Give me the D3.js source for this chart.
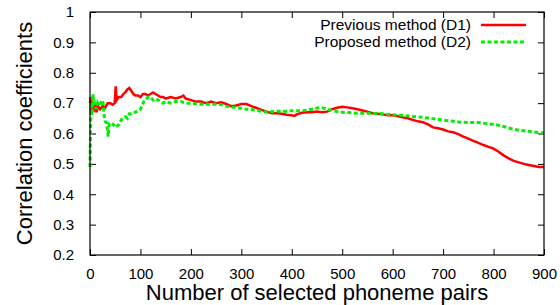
<!DOCTYPE html>
<html>
<head>
<meta charset="utf-8">
<script src="https://cdn.jsdelivr.net/npm/d3@7"></script>
<style>
  body { margin: 0; background: #fff; }
  text { font-family: "Liberation Sans", Arial, Helvetica, sans-serif; fill: #000; }
</style>
</head>
<body>
<div id="chart"></div>
<script>
// ---------------------------------------------------------
// DATA
// ---------------------------------------------------------
const seriesNames = ["Previous method (D1)", "Proposed method (D2)"];

const d1X = [0, 1, 2, 3, 5, 8, 10, 13, 16, 20, 25, 30, 35, 40, 45, 49, 51, 53, 57, 62, 66, 70, 74, 78, 82, 86, 90, 95,
  100, 105, 110, 115, 120, 125, 130, 135, 140, 145, 150, 160, 170, 180, 185, 190, 200, 210, 220, 230, 240, 250,
  260, 270, 280, 290, 300, 310, 320, 330, 340, 350, 360, 370, 380, 390, 400, 405, 410, 420, 430, 440, 450, 460,
  470, 480, 490, 500, 510, 520, 530, 540, 550, 560, 570, 580, 590, 600, 610, 620, 630, 640, 650, 660, 670, 680,
  690, 700, 710, 720, 730, 740, 750, 760, 770, 780, 790, 800, 810, 820, 830, 840, 850, 860, 870, 880, 890, 900];
const d1Y = [0.70, 0.72, 0.67, 0.71, 0.69, 0.68, 0.70, 0.67, 0.69, 0.68, 0.69, 0.685, 0.70, 0.70, 0.695, 0.70, 0.755,
  0.71, 0.72, 0.72, 0.73, 0.735, 0.745, 0.75, 0.74, 0.73, 0.725, 0.725,
  0.72, 0.73, 0.73, 0.725, 0.73, 0.735, 0.73, 0.725, 0.72, 0.72, 0.715, 0.72, 0.715, 0.72, 0.725, 0.715, 0.71,
  0.705, 0.705, 0.70, 0.705, 0.70,
  0.703, 0.697, 0.69, 0.692, 0.697, 0.697, 0.69, 0.684, 0.678, 0.672, 0.667, 0.667, 0.665, 0.662, 0.66, 0.658,
  0.663, 0.668, 0.67, 0.67, 0.672, 0.67,
  0.672, 0.68, 0.685, 0.688, 0.686, 0.683, 0.68, 0.676, 0.672, 0.667, 0.665, 0.663, 0.66, 0.66, 0.657, 0.653,
  0.65, 0.645, 0.64, 0.637, 0.63, 0.62,
  0.617, 0.613, 0.607, 0.604, 0.598, 0.59, 0.583, 0.576, 0.569, 0.562, 0.556, 0.55, 0.54, 0.528, 0.518, 0.51,
  0.505, 0.50, 0.496, 0.493, 0.49, 0.49];

const d2X = [0, 1, 2, 3, 4, 5, 6, 7, 9, 12, 15, 18, 21, 24, 26, 28, 30, 33, 36, 38, 42, 46, 50, 54, 58, 62, 66, 70,
  74, 78, 82, 86, 90, 95, 100, 104, 108, 112, 116, 120, 125, 130, 135, 140, 145, 150, 160, 170, 180, 190, 200,
  210, 220, 230, 240, 250, 260, 270, 280, 290, 300, 310, 320, 330, 340, 350, 360, 370, 380, 390, 400, 410, 420,
  430, 440, 450, 460, 470, 480, 490, 500, 510, 520, 530, 540, 550, 560, 570, 580, 590, 600, 610, 620, 630, 640,
  650, 660, 670, 680, 690, 700, 710, 720, 730, 740, 750, 760, 770, 780, 790, 800, 810, 820, 830, 840, 850, 860,
  870, 880, 890, 900];
const d2Y = [0.49, 0.60, 0.68, 0.70, 0.66, 0.71, 0.73, 0.69, 0.70, 0.68, 0.70, 0.69, 0.70, 0.71, 0.70, 0.66, 0.64,
  0.635, 0.59, 0.63, 0.625, 0.63, 0.62, 0.625, 0.63, 0.645, 0.65, 0.655,
  0.65, 0.665, 0.665, 0.67, 0.67, 0.675, 0.68, 0.695, 0.71, 0.715, 0.72, 0.72, 0.71, 0.715, 0.71, 0.705, 0.70,
  0.705, 0.70, 0.705, 0.705, 0.70, 0.70,
  0.698, 0.696, 0.697, 0.695, 0.697, 0.695, 0.69, 0.687, 0.685, 0.683, 0.68, 0.679, 0.676, 0.673, 0.67, 0.672,
  0.673, 0.673, 0.673, 0.675, 0.675, 0.675,
  0.677, 0.68, 0.684, 0.685, 0.68, 0.676, 0.672, 0.67, 0.669, 0.668, 0.667, 0.667, 0.667, 0.666, 0.666, 0.665,
  0.663, 0.662, 0.66, 0.66, 0.658, 0.656,
  0.655, 0.653, 0.651, 0.649, 0.647, 0.644, 0.642, 0.64, 0.638, 0.637, 0.636, 0.636, 0.636, 0.634, 0.632, 0.63,
  0.627, 0.623, 0.618, 0.614, 0.611, 0.609,
  0.607, 0.605, 0.603, 0.602];

const xTicks = [0, 100, 200, 300, 400, 500, 600, 700, 800, 900];
const yTicks = [0.2, 0.3, 0.4, 0.5, 0.6, 0.7, 0.8, 0.9, 1];

// ---------------------------------------------------------
// SETUP
// ---------------------------------------------------------
const width = 560;
const height = 305;
const margin = { top: 12, right: 16, bottom: 50, left: 90 };
const plotW = width - margin.left - margin.right;
const plotH = height - margin.top - margin.bottom;

const x = d3.scaleLinear().domain([0, 900]).range([0, plotW]);
const y = d3.scaleLinear().domain([0.2, 1]).range([plotH, 0]);

const svg = d3.select("#chart")
  .append("svg")
  .attr("width", width)
  .attr("height", height);

const g = svg.append("g")
  .attr("transform", `translate(${margin.left}, ${margin.top})`);

const tickLen = 6;

// bottom axis with labels, top mirror ticks
g.append("g")
  .attr("transform", `translate(0, ${plotH})`)
  .call(d3.axisBottom(x).tickValues(xTicks).tickSize(-tickLen).tickPadding(13).tickFormat(d3.format("d")))
  .call(a => a.select(".domain").remove())
  .call(a => a.selectAll("text").style("font-size", "15px"));

g.append("g")
  .call(d3.axisTop(x).tickValues(xTicks).tickSize(-tickLen).tickFormat(""))
  .call(a => a.select(".domain").remove());

// left axis with labels, right mirror ticks
g.append("g")
  .call(d3.axisLeft(y).tickValues(yTicks).tickSize(-tickLen).tickPadding(16).tickFormat(d3.format("")))
  .call(a => a.select(".domain").remove())
  .call(a => a.selectAll("text").style("font-size", "15px"));

g.append("g")
  .attr("transform", `translate(${plotW}, 0)`)
  .call(d3.axisRight(y).tickValues(yTicks).tickSize(-tickLen).tickFormat(""))
  .call(a => a.select(".domain").remove());

g.selectAll(".tick line").attr("stroke", "#000");

// series
const line = d3.line()
  .x(d => x(d[0]))
  .y(d => y(d[1]));

const d1 = d1X.map((v, i) => [v, d1Y[i]]);
const d2 = d2X.map((v, i) => [v, d2Y[i]]);

g.append("path")
  .datum(d1)
  .attr("fill", "none")
  .attr("stroke", "#ff0000")
  .attr("stroke-width", 2.5)
  .attr("d", line);

g.append("path")
  .datum(d2)
  .attr("fill", "none")
  .attr("stroke", "#00f000")
  .attr("stroke-width", 3)
  .attr("stroke-dasharray", "4,2.5")
  .attr("d", line);

// frame
g.append("rect")
  .attr("width", plotW)
  .attr("height", plotH)
  .attr("fill", "none")
  .attr("stroke", "#000")
  .attr("stroke-width", 1.2);

// legend
const legend = g.append("g");
const styles = [
  { color: "#ff0000", dash: null, w: 2.5 },
  { color: "#00f000", dash: "4,2.5", w: 3 }
];
seriesNames.forEach((name, i) => {
  const ly = 13 + i * 17;
  legend.append("text")
    .attr("x", 381)
    .attr("y", ly)
    .attr("dy", "0.35em")
    .attr("text-anchor", "end")
    .style("font-size", "15.5px")
    .text(name);
  legend.append("line")
    .attr("x1", 391).attr("x2", 436)
    .attr("y1", ly).attr("y2", ly)
    .attr("stroke", styles[i].color)
    .attr("stroke-width", styles[i].w)
    .attr("stroke-dasharray", styles[i].dash);
});

// axis titles
svg.append("text")
  .attr("x", margin.left + plotW / 2)
  .attr("y", 300)
  .attr("text-anchor", "middle")
  .style("font-size", "22px")
  .text("Number of selected phoneme pairs");

svg.append("text")
  .attr("transform", `translate(32, ${margin.top + plotH / 2}) rotate(-90)`)
  .attr("text-anchor", "middle")
  .style("font-size", "22px")
  .text("Correlation coefficients");
</script>
</body>
</html>
